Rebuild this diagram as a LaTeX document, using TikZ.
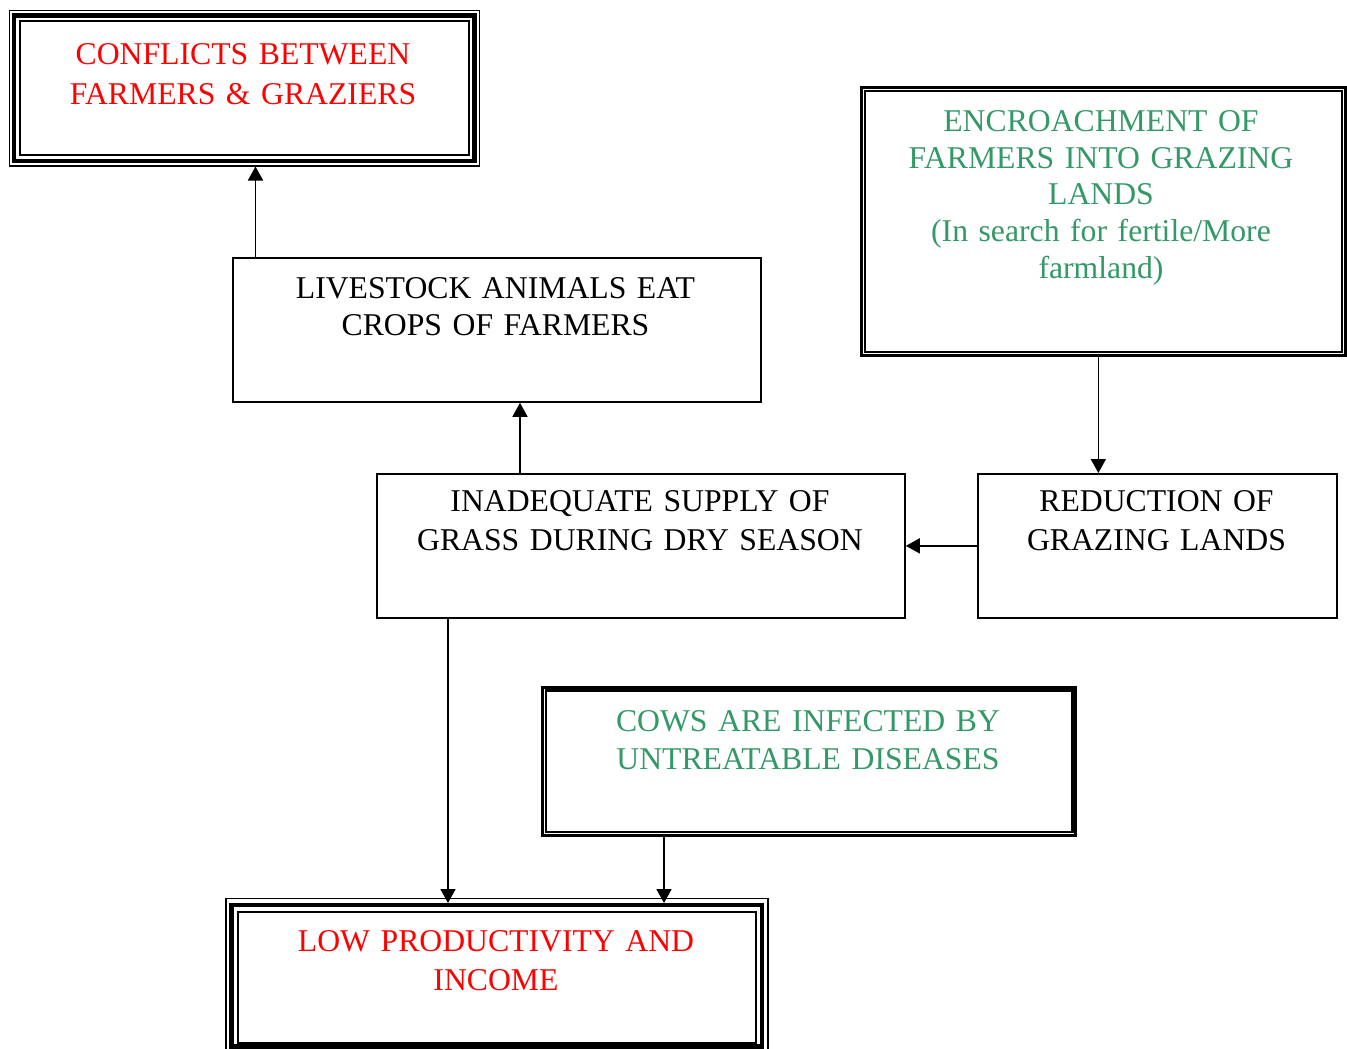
\documentclass[tikz,border=0pt]{standalone}
\usepackage{fontspec}
\setmainfont{Liberation Serif}
\usetikzlibrary{arrows.meta}
\definecolor{leaf}{RGB}{51,153,102}
\begin{document}
\begin{tikzpicture}[x=1pt,y=-1pt,
  box/.style={draw, line width=1.8pt, inner sep=0pt, anchor=north west},
  txt/.style={text width=600pt, align=center, inner sep=0pt, anchor=base},
  sz/.style={font=\fontsize{31.7}{#1}\selectfont},
  arr/.style={-{Triangle[length=14pt,width=15pt]}, line width=1.7pt},
  thickrule/.style={draw, line width=4.5pt},
]
\useasboundingbox[fill=white] (0,0) rectangle (1347,1049);

% ---- boxes (outer outlines) ----
\node[box, line width=1.5pt, minimum width=470pt, minimum height=155pt] (conf) at (8.5,10) {};
\node[box, minimum width=528pt, minimum height=144pt] (live) at (232,257) {};
\node[box, line width=2.7pt, minimum width=484pt, minimum height=268pt] (enc) at (860,86) {};
\node[box, minimum width=528pt, minimum height=144pt] (inad) at (376,473) {};
\node[box, minimum width=359pt, minimum height=144pt] (red) at (977,473) {};
\node[box, line width=2.7pt, minimum width=533pt, minimum height=148pt] (cows) at (541.3,686) {};
\node[box, line width=1.5pt, minimum width=542pt, minimum height=151pt] (low) at (225,897.5) {};

% ---- extra rules of the framed boxes ----
% triple frame: conflicts
\draw[thickrule] ([shift={(5.5,5.5)}]conf.north west) rectangle ([shift={(-5.5,-5.5)}]conf.south east);
\draw[line width=2pt] ([shift={(11.5,11.5)}]conf.north west) rectangle ([shift={(-11.5,-11.5)}]conf.south east);
% triple frame: low productivity
\draw[thickrule] ([shift={(6.5,7.5)}]low.north west) rectangle ([shift={(-6.5,-3.5)}]low.south east);
\draw[line width=2pt] ([shift={(13,14)}]low.north west) rectangle ([shift={(-13,-7)}]low.south east);
% double frames
\draw[line width=1.7pt] ([shift={(4.8,5)}]enc.north west) rectangle ([shift={(-4.8,-5)}]enc.south east);
\draw[line width=2.2pt] ([shift={(4.5,4.5)}]cows.north west) rectangle ([shift={(-4.5,-4.5)}]cows.south east);

% ---- texts ----
\node[txt, sz=39.7, text=red] (confT) at (243,64.3) {CONFLICTS BETWEEN\\FARMERS \& GRAZIERS};
\node[txt, sz=37.4] (liveT) at (495.5,298.3) {LIVESTOCK ANIMALS EAT\\CROPS OF FARMERS};
\node[txt, sz=36.6, text=leaf] (encT) at (1101,131.7) {ENCROACHMENT OF\\FARMERS INTO GRAZING\\LANDS\\(In search for fertile/More\\farmland)};
\node[txt, sz=39] (inadT) at (640,511.5) {INADEQUATE SUPPLY OF\\GRASS DURING DRY SEASON};
\node[txt, sz=39] (redT) at (1156.5,511.5) {REDUCTION OF\\GRAZING LANDS};
\node[txt, sz=38, text=leaf] (cowsT) at (808,731) {COWS ARE INFECTED BY\\UNTREATABLE DISEASES};
\node[txt, sz=39, text=red] (lowT) at (496,951) {LOW PRODUCTIVITY AND\\INCOME};

% ---- connectors ----
\draw[arr] ([shift={(23.5,0)}]live.north west) -- ([shift={(23.5,0)}]live.north west |- conf.south);
\draw[arr] ([shift={(144,0)}]inad.north west) -- ([shift={(144,0)}]inad.north west |- live.south);
\draw[arr] ([shift={(-5,0)}]enc.south) -- ([shift={(-5,0)}]enc.south |- red.north);
\draw[arr] (red.west) -- (red.west -| inad.east);
\draw[arr, shorten >=-5.5pt] ([shift={(72,0)}]inad.south west) -- ([shift={(72,0)}]inad.south west |- low.north);
\draw[arr, shorten >=-5.5pt] ([shift={(122.7,0)}]cows.south west) -- ([shift={(122.7,0)}]cows.south west |- low.north);
\end{tikzpicture}
\end{document}
